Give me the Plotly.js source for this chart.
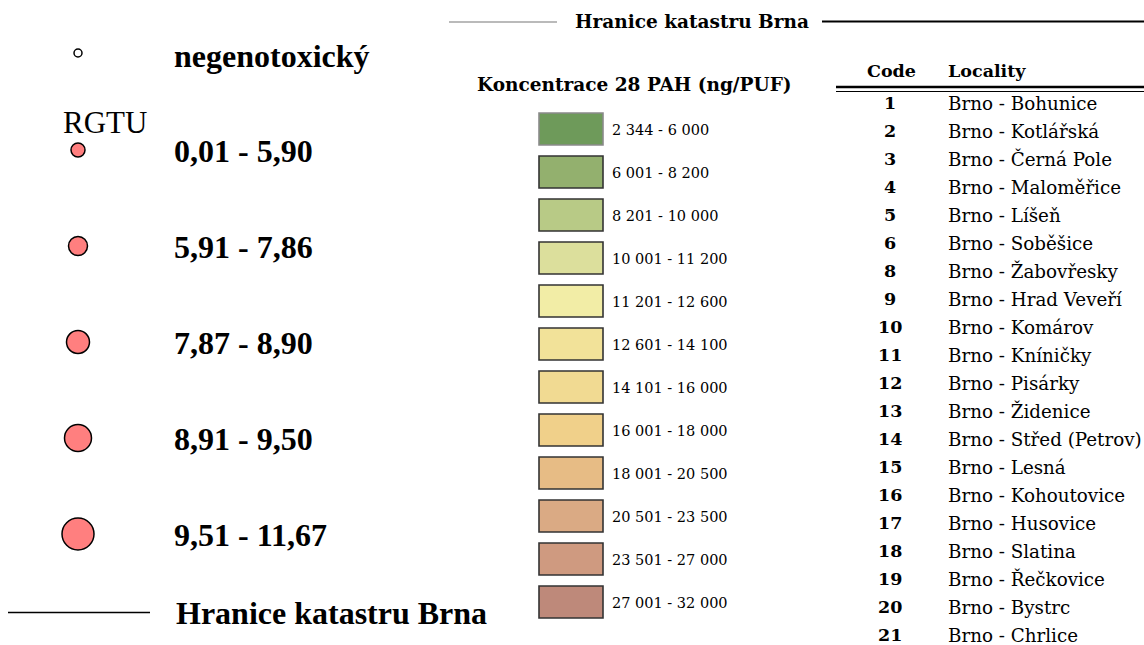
<!DOCTYPE html>
<html>
<head>
<meta charset="utf-8">
<script src="https://cdn.plot.ly/plotly-3.0.1.min.js"></script>
<style>html,body{margin:0;padding:0;background:#fff;}#chart{width:1144px;height:645px;}</style>
</head>
<body>
<div id="chart"></div>
<script>
// ---------- DATA ----------
const rgtuLabels = ['negenotoxický', '0,01 - 5,90', '5,91 - 7,86', '7,87 - 8,90', '8,91 - 9,50', '9,51 - 11,67'];
const rgtuSizes = [8, 14, 19, 23, 27, 32];
const rgtuColors = ['#ffffff', '#ff7f7f', '#ff7f7f', '#ff7f7f', '#ff7f7f', '#ff7f7f'];

const pahLabels = ['2 344 - 6 000', '6 001 - 8 200', '8 201 - 10 000', '10 001 - 11 200', '11 201 - 12 600',
  '12 601 - 14 100', '14 101 - 16 000', '16 001 - 18 000', '18 001 - 20 500', '20 501 - 23 500',
  '23 501 - 27 000', '27 001 - 32 000'];
const pahColors = ['#6e9a5a', '#93b06e', '#b8ca86', '#dcdf9c', '#f2eda6', '#f2e299', '#f1da92',
  '#f0d08a', '#e7bc85', '#daaa84', '#cf9a80', '#be897a'];

const codes = ['1', '2', '3', '4', '5', '6', '8', '9', '10', '11', '12', '13', '14', '15', '16', '17', '18', '19', '20', '21'];
const localities = ['Brno - Bohunice', 'Brno - Kotlářská', 'Brno - Černá Pole', 'Brno - Maloměřice', 'Brno - Líšeň',
  'Brno - Soběšice', 'Brno - Žabovřesky', 'Brno - Hrad Veveří', 'Brno - Komárov', 'Brno - Kníničky',
  'Brno - Pisárky', 'Brno - Židenice', 'Brno - Střed (Petrov)', 'Brno - Lesná', 'Brno - Kohoutovice',
  'Brno - Husovice', 'Brno - Slatina', 'Brno - Řečkovice', 'Brno - Bystrc', 'Brno - Chrlice'];

const boundaryLabel = 'Hranice katastru Brna';
const pahTitle = 'Koncentrace 28 PAH (ng/PUF)';
const rgtuTitle = 'RGTU';
const tableHeaders = ['Code', 'Locality'];

// ---------- LAYOUT ----------
const W = 1144, H = 645;
const TIMES = 'Liberation Serif, Times New Roman, serif';
const WIDE = 'DejaVu Serif, serif';

const circleX = 78;
const circleY = [53, 150, 246, 342, 438, 534];
const labelX = 172;

const rectX = 571, rectW = 64, rectH = 32, rectTop0 = 113, rectStep = 43;
const rectTops = pahLabels.map((_, i) => rectTop0 + i * rectStep);

const rowY0 = 103, rowStep = 28;
const rowYs = codes.map((_, i) => rowY0 + i * rowStep);

const traces = [
  {
    type: 'scatter', mode: 'markers',
    x: rgtuSizes.map(() => circleX), y: circleY,
    marker: { size: rgtuSizes, color: rgtuColors, opacity: 1, line: { color: '#000', width: 1.5 } },
    hoverinfo: 'skip', showlegend: false
  },
  {
    type: 'bar',
    x: pahLabels.map(() => rectX), y: pahLabels.map(() => rectH), base: rectTops,
    width: rectW,
    marker: { color: pahColors, opacity: 1, line: { color: pahColors.map((_, i) => i === 0 ? '#8a8a8a' : '#333333'), width: 1.6 } },
    hoverinfo: 'skip', showlegend: false
  }
];

const ann = [];
function txt(x, y, text, font, xanchor) {
  ann.push({ x, y, xref: 'x', yref: 'y', text, showarrow: false, xanchor: xanchor || 'left', yanchor: 'middle', font });
}
// left column
rgtuLabels.forEach((t, i) => txt(labelX, circleY[i] + (i === 0 ? 3 : 1), t, { family: TIMES, size: 32, color: '#000', weight: 700 }));
txt(105, 122, rgtuTitle, { family: TIMES, size: 31, color: '#000' }, 'center');
txt(174, 613, boundaryLabel, { family: TIMES, size: 32, color: '#000', weight: 700 });
// middle
txt(692, 21, boundaryLabel, { family: WIDE, size: 18.5, color: '#000', weight: 700 }, 'center');
txt(634, 84, pahTitle, { family: WIDE, size: 18.5, color: '#000', weight: 700 }, 'center');
pahLabels.forEach((t, i) => txt(610, rectTops[i] + rectH / 2 + 1, t, { family: WIDE, size: 14.5, color: '#000' }));
// table
txt(891, 71, tableHeaders[0], { family: WIDE, size: 17.5, color: '#000', weight: 700 }, 'center');
txt(946, 71, tableHeaders[1], { family: WIDE, size: 17.5, color: '#000', weight: 700 });
codes.forEach((c, i) => txt(890, rowYs[i], c, { family: WIDE, size: 17.5, color: '#000', weight: 700 }, 'center'));
localities.forEach((l, i) => txt(946, rowYs[i], l, { family: WIDE, size: 18.3, color: '#000' }));

const shapes = [
  { type: 'line', xref: 'x', yref: 'y', x0: 8, x1: 150, y0: 612.5, y1: 612.5, line: { color: '#000', width: 1.5 } },
  { type: 'line', xref: 'x', yref: 'y', x0: 449, x1: 557, y0: 22, y1: 22, line: { color: '#777', width: 1.2 } },
  { type: 'line', xref: 'x', yref: 'y', x0: 822, x1: 1144, y0: 21.5, y1: 21.5, line: { color: '#000', width: 1.8 } },
  { type: 'line', xref: 'x', yref: 'y', x0: 836, x1: 1144, y0: 87, y1: 87, line: { color: '#000', width: 2.5 } },
  { type: 'line', xref: 'x', yref: 'y', x0: 836, x1: 1144, y0: 91.5, y1: 91.5, line: { color: '#000', width: 1 } }
];

const layout = {
  width: W, height: H,
  margin: { l: 0, r: 0, t: 0, b: 0 },
  paper_bgcolor: '#fff', plot_bgcolor: '#fff',
  barmode: 'overlay',
  xaxis: { range: [0, W], visible: false, fixedrange: true },
  yaxis: { range: [H, 0], visible: false, fixedrange: true },
  annotations: ann, shapes: shapes, showlegend: false
};
Plotly.newPlot('chart', traces, layout, { displayModeBar: false, staticPlot: true });
</script>
</body>
</html>
